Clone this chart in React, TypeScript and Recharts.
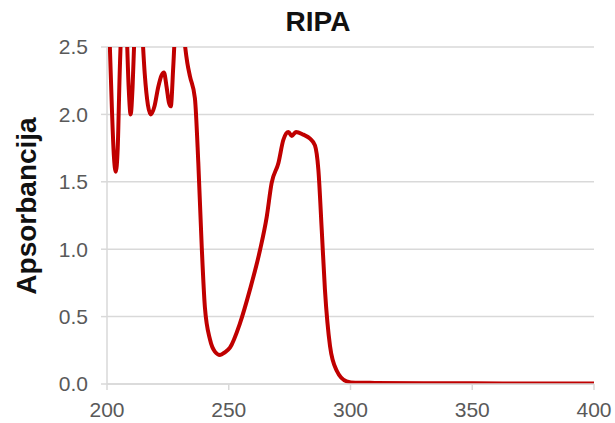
import { CartesianGrid, Line, LineChart, XAxis, YAxis } from "recharts";

const wavelengths = [
  200, 201, 202, 202.8, 203.6, 204.4, 205.2, 206, 207, 208, 208.9, 209.7, 210.5, 211.3, 212.5, 213.7,
  214.5, 215.5, 216.8, 218, 219.5, 221, 222.4, 223.4, 224.5, 225.4, 226.2, 227.2, 228.2, 229.5, 230.8,
  231.8, 233, 234.1, 236.1, 237.5, 238.9, 240.2, 242.3, 244.3, 246.4, 248.4, 250.5, 254.6, 258.7, 262.8,
  265.6, 267.6, 270.4, 272.4, 274.5, 275.9, 277.6, 280.6, 283.4, 285.4, 286.8, 288.2, 289.5, 291.6,
  294.3, 298.4, 302, 310, 330, 350, 375, 400,
];

const absorbance = [
  3.2, 2.6, 2.05, 1.7, 1.575, 1.75, 2.3, 2.7, 2.9, 2.65, 2.2, 2.0, 2.2, 2.6, 2.9, 2.85,
  2.6, 2.3, 2.07, 2.0, 2.06, 2.2, 2.29, 2.31, 2.2, 2.09, 2.06, 2.35, 2.7, 2.85, 2.75,
  2.55, 2.38, 2.28, 2.12, 1.64, 1.02, 0.57, 0.33, 0.24, 0.215, 0.235, 0.27, 0.45, 0.7, 0.99,
  1.24, 1.49, 1.64, 1.81, 1.87, 1.84, 1.87, 1.85, 1.82, 1.77, 1.59, 1.14, 0.7, 0.28,
  0.1, 0.02, 0.01, 0.008, 0.006, 0.005, 0.004, 0.003,
];

const xTicks = [200, 250, 300, 350, 400];
const yTicks = [0, 0.5, 1, 1.5, 2, 2.5];

const font = "'Liberation Sans', Arial, sans-serif";
const gridColor = "#d9d9d9";
const tickFill = "#595959";

const App = () => {
  const data = wavelengths.map((nm, i) => ({ nm, abs: absorbance[i] }));

  return (
    <div style={{ position: "absolute", left: 0, top: 0, width: 615, height: 423, background: "#fff", fontFamily: font }}>
      <div
        style={{
          position: "absolute",
          left: 218,
          top: 8,
          width: 200,
          textAlign: "center",
          fontSize: 28,
          lineHeight: "28px",
          fontWeight: "bold",
          color: "#111",
        }}
      >
        RIPA
      </div>
      <LineChart width={615} height={423} data={data} margin={{ top: 47, right: 21, left: 0, bottom: 0 }}>
        <CartesianGrid vertical={false} stroke={gridColor} strokeWidth={1.5} />
        <XAxis
          dataKey="nm"
          type="number"
          domain={[200, 400]}
          ticks={xTicks}
          height={39}
          axisLine={{ stroke: gridColor, strokeWidth: 1.5 }}
          tickLine={{ stroke: gridColor, strokeWidth: 1.5 }}
          tickSize={6}
          tickMargin={12}
          tick={{ fill: tickFill, fontSize: 21, fontFamily: font }}
        />
        <YAxis
          type="number"
          domain={[0, 2.5]}
          ticks={yTicks}
          allowDataOverflow
          width={107}
          axisLine={{ stroke: gridColor, strokeWidth: 1.5 }}
          tickLine={{ stroke: gridColor, strokeWidth: 1.5 }}
          tickSize={6}
          tickMargin={13}
          tickFormatter={(v: number) => v.toFixed(1)}
          tick={{ fill: tickFill, fontSize: 21, fontFamily: font }}
        />
        <Line
          dataKey="abs"
          type="monotone"
          stroke="#c00000"
          strokeWidth={4}
          dot={false}
          isAnimationActive={false}
        />
      </LineChart>
      <svg width={615} height={423} style={{ position: "absolute", left: 0, top: 0, pointerEvents: "none" }}>
        <text
          x={36}
          y={206}
          transform="rotate(-90, 36, 206)"
          textAnchor="middle"
          fontSize={28}
          fontWeight="bold"
          fontFamily={font}
          fill="#111"
        >
          Apsorbancija
        </text>
      </svg>
    </div>
  );
};

export default App;
